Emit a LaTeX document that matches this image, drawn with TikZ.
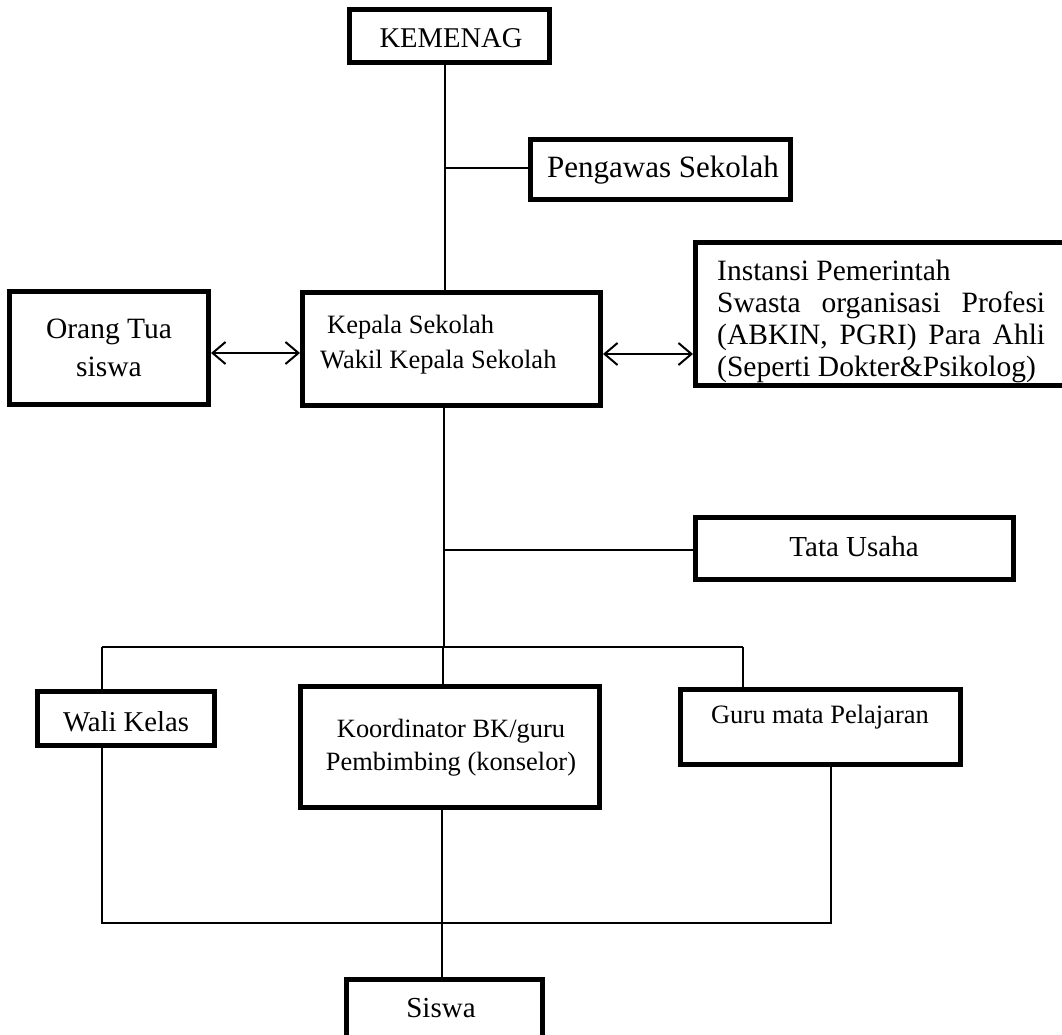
\documentclass[tikz,border=0pt]{standalone}
\usepackage{fontspec}
\setmainfont{Liberation Serif}
\usetikzlibrary{arrows.meta}
\newcommand\setfs[2]{\fontsize{#1}{#2}\selectfont}
\begin{document}
\begin{tikzpicture}[x=1pt,y=-1pt,
  box/.style={draw, line width=5pt, inner sep=0pt},
  lbl/.style={inner sep=0pt, anchor=base},
  conn/.style={line width=1.5pt},
  arr/.style={line width=2pt, {Straight Barb[length=13pt,width=22pt]}-{Straight Barb[length=13pt,width=22pt]}}]
\useasboundingbox (0,0) rectangle (1062,1035);
\fill[white] (0,0) rectangle (1062,1035);
\clip (0,0) rectangle (1062,1035);

% boxes
\node[box, minimum width=200pt, minimum height=53pt] (kem) at (449.5,36) {};
\node[box, minimum width=260pt, minimum height=60pt] (peng) at (660.5,169.5) {};
\node[box, minimum width=199pt, minimum height=113pt] (orang) at (109,348) {};
\node[box, minimum width=298pt, minimum height=113pt] (kep) at (451.5,349) {};
\node[box, minimum width=404pt, minimum height=143pt] (inst) at (897.5,314) {};
\node[box, minimum width=318pt, minimum height=62pt] (tata) at (854.5,548.5) {};
\node[box, minimum width=177pt, minimum height=54pt] (wali) at (126,718.5) {};
\node[box, minimum width=299pt, minimum height=121pt] (koord) at (450,747) {};
\node[box, minimum width=280pt, minimum height=75pt] (guru) at (820.5,727) {};
\node[box, minimum width=196pt, minimum height=80pt] (siswa) at (444.5,1019.5) {};

% texts
\node[lbl] (kemT) at (451,48) {\setfs{28.6}{34}KEMENAG};
\node[lbl] (pengT) at (663,178) {\setfs{31}{36}Pengawas Sekolah};
\node[lbl] (orangT) at (109,338) {\setfs{29.5}{38}\begin{tabular}[t]{@{}c@{}}Orang Tua\\siswa\end{tabular}};
\node[lbl, anchor=base west] (kepT) at (320,333) {\setfs{26.5}{35}\begin{tabular}[t]{@{}l@{}}\hspace{7pt}Kepala Sekolah\\Wakil Kepala Sekolah\end{tabular}};
\node[lbl, anchor=base west] (instT) at (717,280) {\setfs{29.5}{32.3}\begin{tabular}[t]{@{}l@{}}Instansi Pemerintah\\
  \makebox[328pt][s]{Swasta organisasi Profesi}\\
  \makebox[328pt][s]{(ABKIN, PGRI) Para Ahli}\\
  (Seperti Dokter\&Psikolog)\end{tabular}};
\node[lbl] (tataT) at (854,556) {\setfs{29}{34}Tata Usaha};
\node[lbl] (waliT) at (126,731) {\setfs{28.7}{34}Wali Kelas};
\node[lbl] (koordT) at (451,737) {\setfs{26.4}{33}\begin{tabular}[t]{@{}c@{}}Koordinator BK/guru\\Pembimbing (konselor)\end{tabular}};
\node[lbl] (guruT) at (820,723) {\setfs{26.5}{32}Guru mata Pelajaran};
\node[lbl] (siswaT) at (441,1017) {\setfs{29}{34}Siswa};

% helper coordinates
\coordinate (c1) at (445,0);
\coordinate (c2) at (444,0);
\coordinate (cw) at (102,0);
\coordinate (ck) at (443,0);
\coordinate (cg) at (743,0);
\coordinate (cgb) at (831,0);
\coordinate (cs) at (442,0);
\coordinate (hp) at (0,168);
\coordinate (ht) at (0,550);
\coordinate (h1) at (0,647);
\coordinate (h2) at (0,923);
\coordinate (ha) at (0,353);
\coordinate (hb) at (0,354);

% connectors
\draw[conn] (kem.south -| c1) -- (kep.north -| c1);
\draw[conn] (peng.west |- hp) -- (hp -| c1);
\draw[conn] (kep.south -| c2) -- (h1 -| c2);
\draw[conn] (tata.west |- ht) -- (ht -| c2);
\draw[conn] (h1 -| cw) -- (h1 -| cg);
\draw[conn] (h1 -| cw) -- (wali.north -| cw);
\draw[conn] (h1 -| ck) -- (koord.north -| ck);
\draw[conn] (h1 -| cg) -- (guru.north -| cg);
\draw[conn, line width=2pt] (wali.south -| cw) -- (h2 -| cw) -- (h2 -| cgb) -- (guru.south -| cgb);
\draw[conn] (koord.south -| cs) -- (siswa.north -| cs);
\draw[arr] (orang.east |- ha) -- (kep.west |- ha);
\draw[arr] (kep.east |- hb) -- (inst.west |- hb);
\end{tikzpicture}
\end{document}
